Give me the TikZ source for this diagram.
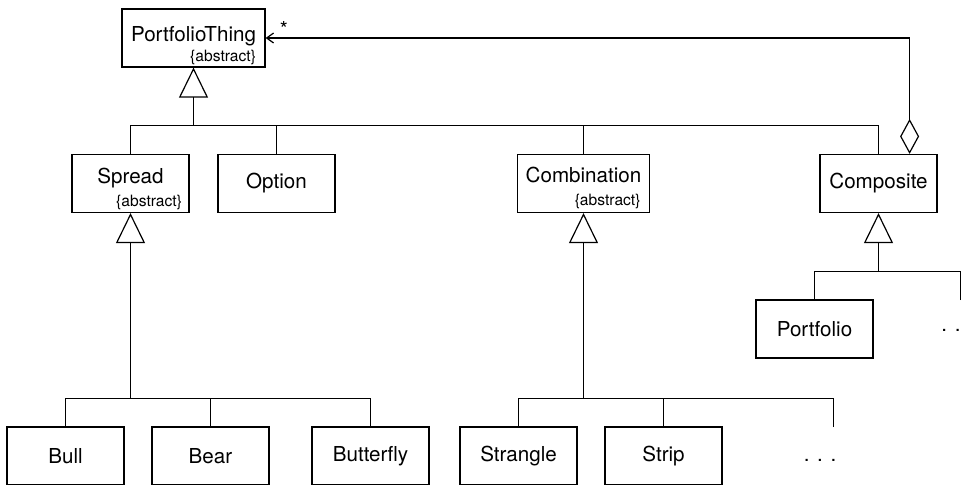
\documentclass[tikz,border=0pt]{standalone}
\usepackage{fontspec}
\setmainfont{TeX Gyre Heros}
\usetikzlibrary{arrows.meta,calc,positioning}

\tikzset{
  cls/.style={draw, minimum width=58.5pt, minimum height=29pt, inner sep=0pt,
    font=\fontsize{10.3}{12}\selectfont},
  clsname/.style={anchor=base, font=\fontsize{10.3}{12}\selectfont},
  abstr/.style={anchor=base east, inner sep=0pt, font=\fontsize{7.8}{9}\selectfont},
  dots/.style={font=\fontsize{10.3}{12}\selectfont},
  gen/.style={-{Triangle[open,length=15pt,width=14.5pt]}},
  aggr/.style={{Diamond[open,length=17.5pt,width=9.5pt]}-{Straight Barb[length=3.5pt,width=5pt]}}
}

\begin{document}
\begin{tikzpicture}[x=0.5pt,y=-0.5pt,line width=0.6pt]
\useasboundingbox (0,0) rectangle (963,484);
\begin{scope}[overlay]
\clip (0,0) rectangle (963,484);
% top class
\node[cls, minimum width=71.5pt] (thing) at (193.5,38) {};
\node[clsname] (thingname) at ($(thing.north)+(0,33)$) {PortfolioThing};
\node[abstr] (thingabs) at ($(thing.south east)+(-9,-6)$) {\{abstract\}};
% second row
\node[cls] (spread) at (130.5,183.5) {};
\node[clsname] (spreadname) at ($(spread.north)+(0,30)$) {Spread};
\node[abstr] (spreadabs) at ($(spread.south east)+(-7,-7)$) {\{abstract\}};
\node[cls] (option) at (276.5,183.5) {Option};
\node[cls, minimum width=66pt] (combi) at (583.5,183.5) {};
\node[clsname] (combiname) at ($(combi.north)+(0,29)$) {Combination};
\node[abstr] (combiabs) at ($(combi.south east)+(-9,-8)$) {\{abstract\}};
\node[cls] (compo) at (878.5,183.5) {Composite};
% leaves
\node[cls] (portfolio) at (814.5,329) {Portfolio};
\node[dots] (compodots) at (951,330) {. .};
\node[cls] (bull) at (65.5,456) {Bull};
\node[cls] (bear) at (210.5,456) {Bear};
\node[cls] (butterfly) at (370.5,456) {Butterfly};
\node[cls] (strangle) at (518.5,456) {Strangle};
\node[cls] (strip) at (663.5,456) {Strip};
\node[dots] (combidots) at (820,460) {. . .};
% bars
\coordinate (thingbar) at (193.5,125.5);
\coordinate (spreadbar) at (130.5,398.5);
\coordinate (combibar) at (583.5,398.5);
\coordinate (compobar) at (878.5,271.5);
\coordinate (combimore) at (833.5,427);
\coordinate (compomore) at (960.5,300);
% generalisation
\draw (spread.north) |- (thingbar);
\draw (option.north) |- (thingbar);
\draw (combi.north) |- (thingbar);
\draw (compo.north) |- (thingbar);
\draw[gen] (thingbar) -- (thing.south);
\draw (bull.north) |- (spreadbar);
\draw (bear.north) |- (spreadbar);
\draw (butterfly.north) |- (spreadbar);
\draw[gen] (spreadbar) -- (spread.south);
\draw (strangle.north) |- (combibar);
\draw (strip.north) |- (combibar);
\draw (combimore) |- (combibar);
\draw[gen] (combibar) -- (combi.south);
\draw (portfolio.north) |- (compobar);
\draw (compomore) |- (compobar);
\draw[gen] (compobar) -- (compo.south);
% aggregation
\draw[aggr] ($(compo.north east)+(-28,0)$) |- (thing.east);
\node[dots] (star) at (284,29) {*};
\end{scope}
\end{tikzpicture}
\end{document}
